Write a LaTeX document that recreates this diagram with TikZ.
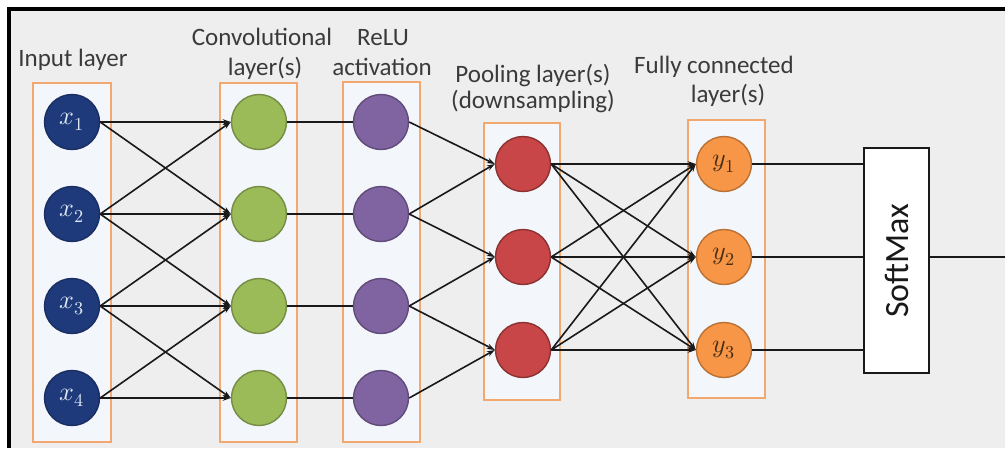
\documentclass[tikz,border=0pt]{standalone}
\usepackage{fontspec}
\usepackage{unicode-math}
\setmathfont{Latin Modern Math}
\newfontfamily\calibri{Carlito}
\usetikzlibrary{arrows.meta}

\definecolor{bggray}{RGB}{238,238,238}
\definecolor{boxfill}{RGB}{243,246,250}
\definecolor{boxorange}{RGB}{243,168,112}
\definecolor{lbltext}{RGB}{58,58,58}
\definecolor{inblue}{RGB}{31,58,122}
\definecolor{inlabel}{RGB}{222,232,245}
\definecolor{convgreen}{RGB}{155,187,89}
\definecolor{relupurple}{RGB}{128,100,162}
\definecolor{poolred}{RGB}{200,70,72}
\definecolor{fcorange}{RGB}{247,150,70}
\definecolor{fclabel}{RGB}{70,45,20}
\definecolor{linkblack}{RGB}{25,25,25}

\begin{document}
\begin{tikzpicture}[x=1pt,y=-1pt,
  layerbox/.style={draw=boxorange,line width=2.2pt,fill=boxfill,inner sep=0pt},
  neuron/.style={circle,minimum size=55pt,inner sep=0pt,line width=1.4pt,
    font=\fontsize{26}{30}\selectfont},
  innode/.style={neuron,fill=inblue,draw=inblue!80!black,text=inlabel},
  convnode/.style={neuron,fill=convgreen,draw=convgreen!75!black},
  relunode/.style={neuron,fill=relupurple,draw=relupurple!75!black},
  poolnode/.style={neuron,fill=poolred,draw=poolred!70!black},
  fcnode/.style={neuron,fill=fcorange,draw=fcorange!75!black,text=fclabel},
  lbl/.style={font=\calibri\fontsize{25}{30}\selectfont,text=lbltext,anchor=base,inner sep=0pt},
  link/.style={line width=1.6pt,draw=linkblack},
  arrowlink/.style={link,-{Stealth[length=8pt,width=5.5pt]}},
  softbox/.style={draw=linkblack,line width=2pt,fill=white,minimum width=65pt,
    minimum height=225pt,inner sep=0pt,font=\calibri\fontsize{34}{40}\selectfont,text=linkblack}]

% background and frame
\useasboundingbox (0,0) rectangle (1005,448);
\fill[white] (0,0) rectangle (1005,448);
\fill[bggray] (9,9) rectangle (1005,448);
\draw[line width=4pt,black] (9,448) -- (9,9) -- (1005,9);

% layer boxes
\node[layerbox,minimum width=78pt,minimum height=359pt] (inbox) at (72,262.5) {};
\node[layerbox,minimum width=77pt,minimum height=359pt] (convbox) at (258.5,262.5) {};
\node[layerbox,minimum width=77pt,minimum height=360pt] (relubox) at (381.5,262) {};
\node[layerbox,minimum width=76pt,minimum height=277pt] (poolbox) at (522,261.5) {};
\node[layerbox,minimum width=77pt,minimum height=278pt] (fcbox) at (726.5,259) {};

% layer titles
\node[lbl] (inlbl) at (73,66) {Input layer};
\node[lbl] (convlblA) at (262,45) {Convolutional};
\node[lbl] (convlblB) at (265,75) {layer(s)};
\node[lbl] (relulblA) at (383,45) {ReLU};
\node[lbl] (relulblB) at (382,75) {activation};
\node[lbl] (poollblA) at (533,82) {Pooling layer(s)};
\node[lbl] (poollblB) at (533,108) {(downsampling)};
\node[lbl] (fclblA) at (714,73) {Fully connected};
\node[lbl] (fclblB) at (728,102) {layer(s)};

% neurons
\foreach \i/\y in {1/122,2/214,3/306,4/398}{
  \node[innode] (x\i) at (72,\y) {$x_{\i}$};
  \node[convnode] (c\i) at (259,\y) {};
  \node[relunode] (r\i) at (381,\y) {};
}
\foreach \i/\y in {1/164,2/257,3/350}{
  \node[poolnode] (p\i) at (523,\y) {};
  \node[fcnode] (y\i) at (724,\y) {$y_{\i}$};
}
\node[softbox] (soft) at (896.5,260.5) {\rotatebox{90}{SoftMax}};
\coordinate (out) at (1005,257);

% connections
\foreach \i/\j in {1/1,1/2,2/1,2/2,2/3,3/2,3/3,3/4,4/3,4/4}
  \draw[arrowlink] (x\i.east) -- (c\j.west);
\foreach \i in {1,...,4}
  \draw[link] (c\i.east) -- (r\i.west);
\foreach \i/\j in {1/1,2/1,2/2,3/2,3/3,4/3}
  \draw[arrowlink] (r\i.east) -- (p\j.west);
\foreach \i in {1,2,3}
  \foreach \j in {1,2,3}
    \draw[arrowlink] (p\i.east) -- (y\j.west);
\foreach \j in {1,2,3}
  \draw[link] (y\j.east) -- (y\j.east -| soft.west);
\draw[link] (soft.east |- out) -- (out);
\end{tikzpicture}
\end{document}
